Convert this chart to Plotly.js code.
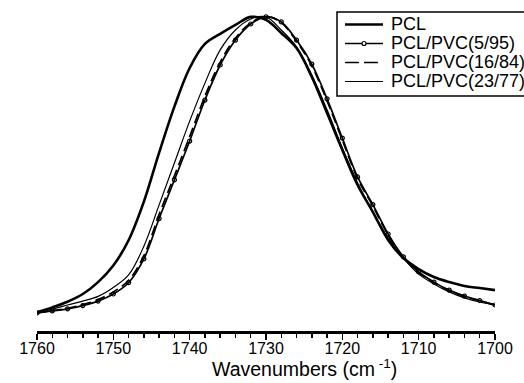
<!DOCTYPE html>
<html>
<head>
<meta charset="utf-8">
<script src="https://cdn.plot.ly/plotly-3.0.1.min.js"></script>
<style>html,body{margin:0;padding:0;background:#fff;}#chart{width:524px;height:383px;}</style>
</head>
<body>
<div id="chart"></div>
<script>
const wavenumbers = [1760,1758,1756,1754,1752,1750,1748,1746,1744,1742,1740,1738,1736,1734,1732,1730,1728,1726,1724,1722,1720,1718,1716,1714,1712,1710,1708,1706,1704,1702,1700];
const seriesNames = ["PCL","PCL/PVC(5/95)","PCL/PVC(16/84)","PCL/PVC(23/77)"];
const pcl      = [0.003,0.019,0.038,0.064,0.104,0.160,0.245,0.375,0.540,0.695,0.825,0.906,0.940,0.970,0.997,0.987,0.943,0.892,0.795,0.673,0.549,0.431,0.340,0.246,0.185,0.148,0.121,0.104,0.091,0.084,0.077];
const pvc5_95  = [0.000,0.007,0.014,0.025,0.040,0.064,0.102,0.182,0.318,0.448,0.579,0.717,0.835,0.919,0.973,0.997,0.980,0.919,0.838,0.721,0.589,0.458,0.365,0.266,0.189,0.138,0.104,0.077,0.057,0.042,0.027];
const pvc16_84 = [0.000,0.008,0.016,0.028,0.045,0.071,0.110,0.193,0.332,0.462,0.594,0.730,0.845,0.926,0.977,0.998,0.978,0.915,0.832,0.714,0.582,0.452,0.360,0.262,0.187,0.136,0.102,0.075,0.056,0.041,0.026];
const pvc23_77 = [0.000,0.013,0.027,0.040,0.056,0.086,0.128,0.225,0.364,0.505,0.646,0.774,0.886,0.953,0.990,0.997,0.953,0.896,0.801,0.684,0.556,0.438,0.340,0.253,0.185,0.131,0.098,0.071,0.051,0.037,0.027];
const xTickVals = [1760,1750,1740,1730,1720,1710,1700];
const xTickText = ["1760","1750","1740","1730","1720","1710","1700"];
const xTitle = "Wavenumbers (cm<sup> -1</sup>)";

// plot-area geometry (pixels) used to place the hand-drawn legend box
const PL = 37, PR = 495, PT = 10, PB = 331;
const px2x = p => (p - PL) / (PR - PL);
const py2y = p => (PB - p) / (PB - PT);

const traces = [
  {x: wavenumbers, y: pcl, name: seriesNames[0], mode: "lines",
   line: {color: "#000", width: 2.6, shape: "spline"}},
  {x: wavenumbers, y: pvc5_95, name: seriesNames[1], mode: "lines+markers",
   line: {color: "#000", width: 1.7, shape: "spline"},
   marker: {symbol: "circle-open", size: 4, color: "#000", line: {width: 1.2}}},
  {x: wavenumbers, y: pvc16_84, name: seriesNames[2], mode: "lines",
   line: {color: "#000", width: 1.7, dash: "10px,5px", shape: "spline"}},
  {x: wavenumbers, y: pvc23_77, name: seriesNames[3], mode: "lines",
   line: {color: "#000", width: 1.2, shape: "spline"}}
];

// legend drawn by hand (the reference legend rows are tighter than Plotly's)
const rowsY = [24.5, 43.5, 62.5, 81.5];
const legendStyles = [
  {width: 2.6, dash: "solid"},
  {width: 1.7, dash: "solid", dot: true},
  {width: 1.7, dash: "14px,5px"},
  {width: 1.2, dash: "solid"}
];
const shapes = [{type: "rect", xref: "paper", yref: "paper",
  x0: px2x(337), x1: px2x(530), y0: py2y(96), y1: py2y(12),
  line: {color: "#000", width: 1.5}, fillcolor: "#fff", layer: "above"}];
const annotations = [];
seriesNames.forEach((nm, i) => {
  const st = legendStyles[i];
  shapes.push({type: "line", xref: "paper", yref: "paper",
    x0: px2x(345), x1: px2x(383), y0: py2y(rowsY[i]), y1: py2y(rowsY[i]),
    line: {color: "#000", width: st.width, dash: st.dash}, layer: "above"});
  if (st.dot) {
    shapes.push({type: "circle", xref: "paper", yref: "paper",
      x0: px2x(362), x1: px2x(366), y0: py2y(rowsY[i] + 2), y1: py2y(rowsY[i] - 2),
      line: {color: "#000", width: 1.2}, fillcolor: "#fff", layer: "above"});
  }
  annotations.push({text: nm, xref: "paper", yref: "paper", x: px2x(389), y: py2y(rowsY[i]),
    xanchor: "left", yanchor: "middle", showarrow: false,
    font: {size: 18, color: "#000"}});
});
annotations.push({text: xTitle, xref: "paper", yref: "paper", x: px2x(304), y: py2y(368),
  xanchor: "center", yanchor: "middle", showarrow: false, font: {size: 19.5, color: "#000"}});

const layout = {
  width: 524, height: 383,
  margin: {l: PL, r: 524 - PR, t: PT, b: 383 - PB},
  paper_bgcolor: "#fff", plot_bgcolor: "#fff",
  font: {family: "Liberation Sans, Arial, sans-serif", color: "#000", size: 16},
  showlegend: false,
  shapes: shapes,
  annotations: annotations,
  xaxis: {
    range: [1760, 1700], autorange: false,
    tickmode: "array", tickvals: xTickVals, ticktext: xTickText,
    ticks: "outside", ticklen: 6, tickwidth: 1.5, tickcolor: "#000",
    minor: {dtick: 2, ticks: "outside", ticklen: 4, tickwidth: 1.5, tickcolor: "#000"},
    showline: true, linecolor: "#000", linewidth: 2.5,
    showgrid: false, zeroline: false,
    tickfont: {size: 16}, ticklabelstandoff: -5
  },
  yaxis: {range: [-0.0606, 1.0202], visible: false, showgrid: false, zeroline: false}
};

Plotly.newPlot("chart", traces, layout, {displayModeBar: false, staticPlot: true});
</script>
</body>
</html>
